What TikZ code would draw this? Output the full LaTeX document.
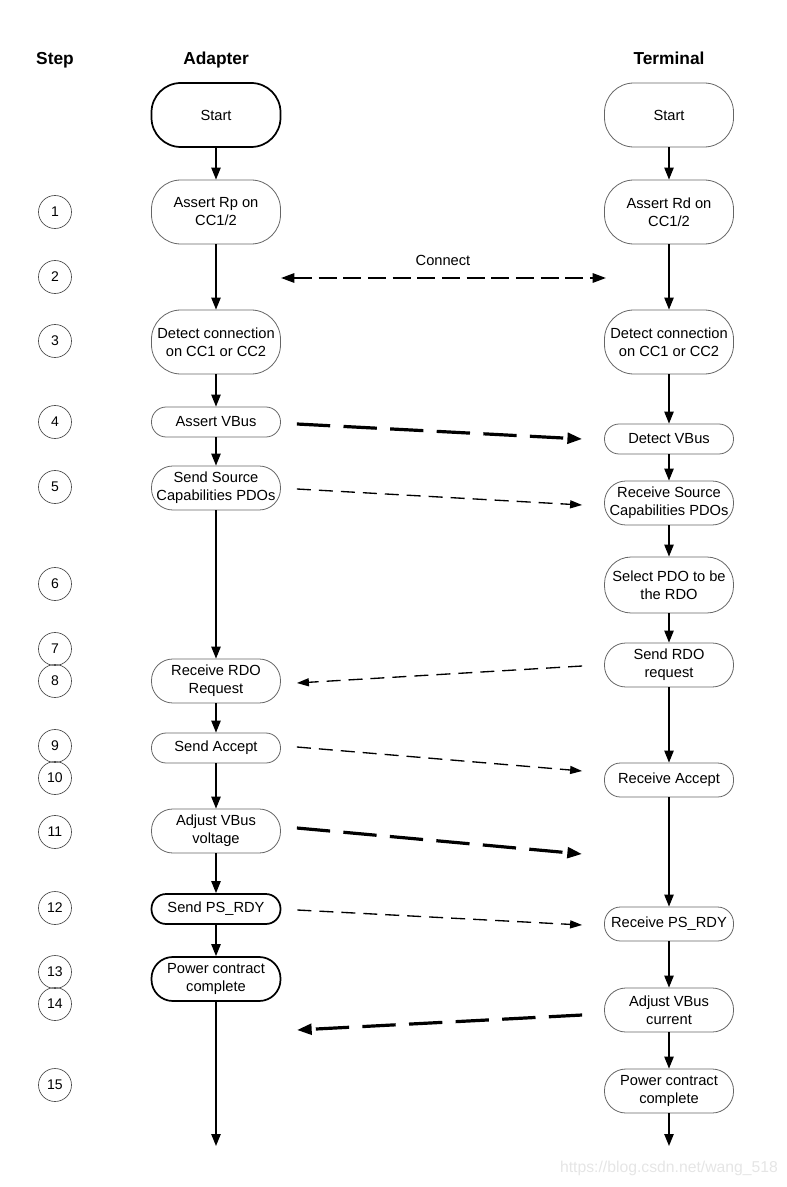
\documentclass[tikz,border=0pt]{standalone}
\usepackage{fontspec}
\setmainfont{Liberation Sans}
\usetikzlibrary{arrows.meta}

\begin{document}
\begin{tikzpicture}[x=0.75pt, y=-0.75pt,
    every node/.style={font=\fontsize{11}{13.5}\selectfont},
    box/.style={draw=black!60, line width=0.6pt, align=center, inner sep=0pt, minimum width=96.75pt},
    tall/.style={box, minimum height=48pt, rounded corners=22pt},
    mid/.style={box, minimum height=33pt, rounded corners=16pt},
    low/.style={box, minimum height=22.5pt, rounded corners=11pt},
    bold/.style={draw=black, line width=1.3pt},
    stepnum/.style={circle, draw=black!70, line width=0.5pt, minimum size=24.75pt, inner sep=0pt, font=\fontsize{10.5}{12}\selectfont},
    head/.style={anchor=base, font=\fontsize{13}{15}\selectfont\bfseries},
    flow/.style={line width=1.1pt, -{Triangle[length=9pt,width=7pt]}},
    msg/.style={line width=1pt, dash pattern=on 10.5pt off 6pt, -{Triangle[length=9pt,width=6pt]}},
    bigmsg/.style={line width=2.4pt, dash pattern=on 25pt off 10pt, -{Triangle[length=11pt,width=8pt]}},
    conn/.style={line width=1.5pt, dash pattern=on 13.5pt off 5pt, {Triangle[length=10pt,width=7pt]}-{Triangle[length=10pt,width=7pt]}}
    ]
    \useasboundingbox (0,0) rectangle (787,1187);

    \node[head] (hstep) at (55,64.5) {Step};
    \node[head] (hadp) at (216,64.5) {Adapter};
    \node[head] (hterm) at (669,64.5) {Terminal};

    \foreach \n/\y in {1/212,2/277,3/341,4/422,5/487,6/584,7/649,8/681,9/746,10/778,11/832,12/908,13/972,14/1004,15/1085}
      \node[stepnum] (s\n) at (55,\y) {\n};

    \node[tall, bold] (astart) at (216,115) {Start};
    \node[tall] (arp) at (216,212) {Assert Rp on\\CC1/2};
    \node[tall] (adet) at (216,342) {Detect connection\\on CC1 or CC2};
    \node[low] (avbus) at (216,422) {Assert VBus};
    \node[mid] (asrc) at (216,488) {Send Source\\Capabilities PDOs};
    \node[mid] (ardo) at (216,681) {Receive RDO\\Request};
    \node[low] (aacc) at (216,748) {Send Accept};
    \node[mid] (avolt) at (216,831) {Adjust VBus\\voltage};
    \node[low, bold] (aps) at (216,909) {Send PS\_RDY};
    \node[mid, bold] (adone) at (216,979) {Power contract\\complete};
    \coordinate (aend) at (216,1146);

    \node[tall] (tstart) at (669,115) {Start};
    \node[tall] (trd) at (669,212) {Assert Rd on\\CC1/2};
    \node[tall] (tdet) at (669,342) {Detect connection\\on CC1 or CC2};
    \node[low] (tvbus) at (669,439) {Detect VBus};
    \node[mid] (tsrc) at (669,503) {Receive Source\\Capabilities PDOs};
    \node[mid, minimum height=42pt, rounded corners=20pt] (tsel) at (669,585) {Select PDO to be\\the RDO};
    \node[mid] (trdo) at (669,665) {Send RDO\\request};
    \node[low, minimum height=25.5pt, rounded corners=12pt] (tacc) at (669,780) {Receive Accept};
    \node[low, minimum height=25.5pt, rounded corners=12pt] (tps) at (669,924) {Receive PS\_RDY};
    \node[mid] (tcur) at (669,1010) {Adjust VBus\\current};
    \node[mid] (tdone) at (669,1091) {Power contract\\complete};
    \coordinate (tend) at (669,1146);

    \foreach \a/\b in {astart/arp, arp/adet, adet/avbus, avbus/asrc, asrc/ardo, ardo/aacc, aacc/avolt, avolt/aps, aps/adone, adone/aend,
      tstart/trd, trd/tdet, tdet/tvbus, tvbus/tsrc, tsrc/tsel, tsel/trdo, trdo/tacc, tacc/tps, tps/tcur, tcur/tdone, tdone/tend}
      \draw[flow] (\a) -- (\b);

    \coordinate (cl) at (281,278);
    \coordinate (cr) at (606,278);
    \draw[conn] (cl) -- (cr);
    \node (lconn) at (443,260) {Connect};

    \draw[bigmsg] ([xshift=12pt,yshift=-1.5pt]avbus.east) -- ([xshift=-16.5pt]tvbus.west);
    \draw[msg] ([xshift=12pt,yshift=-0.75pt]asrc.east) -- ([xshift=-16.5pt,yshift=-1.5pt]tsrc.west);
    \draw[msg] ([xshift=-16.5pt,yshift=-0.75pt]trdo.west) -- ([xshift=12pt,yshift=-1.5pt]ardo.east);
    \draw[msg] ([xshift=12pt,yshift=0.75pt]aacc.east) -- ([xshift=-16.5pt,yshift=6.75pt]tacc.west);
    \coordinate (vfree) at (582,854);
    \draw[bigmsg] ([xshift=12pt,yshift=2.25pt]avolt.east) -- (vfree);
    \draw[msg] ([xshift=12pt,yshift=-0.75pt]aps.east) -- ([xshift=-16.5pt,yshift=-0.75pt]tps.west);
    \coordinate (ifree) at (297,1030);
    \draw[bigmsg] ([xshift=-16.5pt,yshift=-3.75pt]tcur.west) -- (ifree);

    \node[text=black!10, font=\fontsize{11.8}{14}\selectfont] (wmark) at (669,1168) {https://blog.csdn.net/wang\_518};
\end{tikzpicture}
\end{document}
